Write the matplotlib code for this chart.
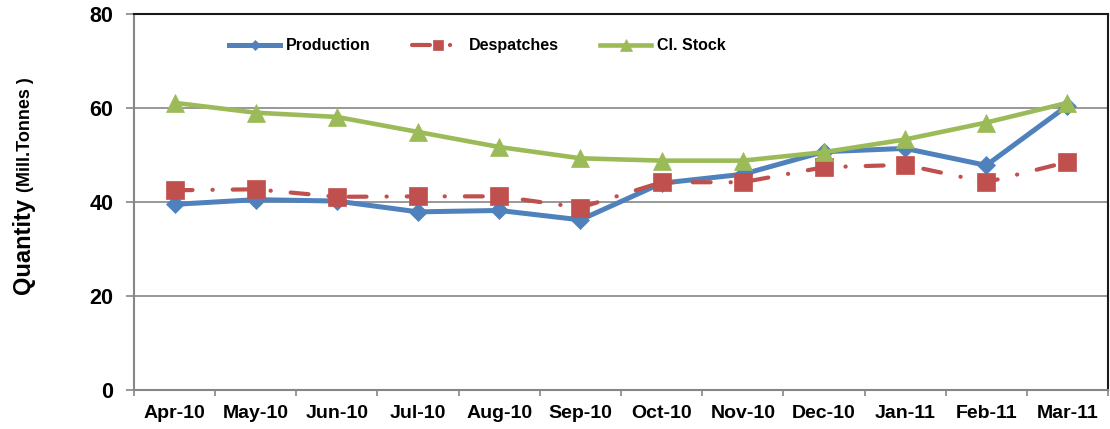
import matplotlib
matplotlib.use('Agg')
import matplotlib.pyplot as plt
import numpy as np

plt.rcParams['font.family'] = ['Liberation Sans', 'DejaVu Sans']

months = ['Apr-10', 'May-10', 'Jun-10', 'Jul-10', 'Aug-10', 'Sep-10',
          'Oct-10', 'Nov-10', 'Dec-10', 'Jan-11', 'Feb-11', 'Mar-11']
production = [39.5, 40.5, 40.2, 37.9, 38.2, 36.2, 44.0, 45.9, 50.7, 51.4, 47.8, 60.5]
despatches = [42.5, 42.7, 41.1, 41.2, 41.2, 38.8, 44.2, 44.2, 47.4, 47.9, 44.2, 48.5]
cl_stock = [61.1, 59.0, 58.1, 54.9, 51.7, 49.3, 48.8, 48.8, 50.6, 53.3, 56.9, 61.1]
y_ticks = [0, 20, 40, 60, 80]
series_names = ['Production', 'Despatches', 'Cl. Stock']

c_prod = '#4F81BD'
c_desp = '#C0504D'
c_stock = '#9BBB59'
grey = '#868686'

W, H = 1110, 429
fig = plt.figure(figsize=(W / 100, H / 100), dpi=100)
L, R, T, B = 134, 1108, 14, 390
ax = fig.add_axes([L / W, 1 - B / H, (R - L) / W, (B - T) / H])

x = np.arange(len(months))

ax.plot(x, production, color=c_prod, lw=3.6, marker='D', ms=9,
        mfc=c_prod, mec=c_prod, mew=0.5, zorder=3, solid_joinstyle='round',
        label=series_names[0])
ax.plot(x, despatches, color=c_desp, lw=3.0, marker='s', ms=13,
        mfc=c_desp, mec=c_desp, mew=0.5, zorder=4,
        linestyle=(0, (4.3, 4.8, 0.05, 4.8)), dash_capstyle='round',
        label=series_names[1])
ax.plot(x, cl_stock, color=c_stock, lw=3.3, marker='^', ms=13.5,
        mfc=c_stock, mec=c_stock, mew=0.5, zorder=5, solid_joinstyle='round',
        label=series_names[2])

ax.set_xlim(-0.5, len(months) - 0.5)
ax.set_ylim(0, 80)
ax.set_yticks(y_ticks)
ax.set_yticklabels([str(v) for v in y_ticks], fontsize=15.5, fontweight='bold')
ax.set_xticks(x)
ax.set_xticklabels(months, fontsize=14, fontweight='bold')
ax.set_xticks(np.arange(-0.5, len(months), 1.0), minor=True)

ax.tick_params(axis='x', which='major', length=0, pad=11)
ax.tick_params(axis='x', which='minor', length=4.5, width=1.2, color=grey, direction='out')
ax.tick_params(axis='y', which='major', length=6, width=1.2, color=grey, direction='out', pad=9)

ax.yaxis.grid(True, color=grey, lw=1.2, zorder=0)
ax.set_axisbelow(True)

for s in ['left', 'bottom']:
    ax.spines[s].set_color(grey)
    ax.spines[s].set_linewidth(1.5)
for s in ['top', 'right']:
    ax.spines[s].set_color('#1a1a1a')
    ax.spines[s].set_linewidth(1.5)

t1 = fig.text(30 / W, 1 - 294 / H, 'Quantity', rotation=90, rotation_mode='anchor',
              ha='left', va='baseline', fontsize=17, fontweight='bold')
fig.canvas.draw()
bb = t1.get_window_extent(renderer=fig.canvas.get_renderer())
top_px = bb.y1 + 6
fig.text(30 / W, top_px / H, '(Mill.Tonnes )', rotation=90, rotation_mode='anchor',
         ha='left', va='baseline', fontsize=13, fontweight='bold')

leg = ax.legend(loc='center', bbox_to_anchor=(477.5 / W, 1 - 45.7 / H),
                bbox_transform=fig.transFigure, ncol=3, frameon=False,
                prop={'size': 11.5, 'weight': 'bold'}, handlelength=3.2,
                handletextpad=0.35, columnspacing=2.6, markerscale=0.6)

fig.savefig('out.png', dpi=100)
